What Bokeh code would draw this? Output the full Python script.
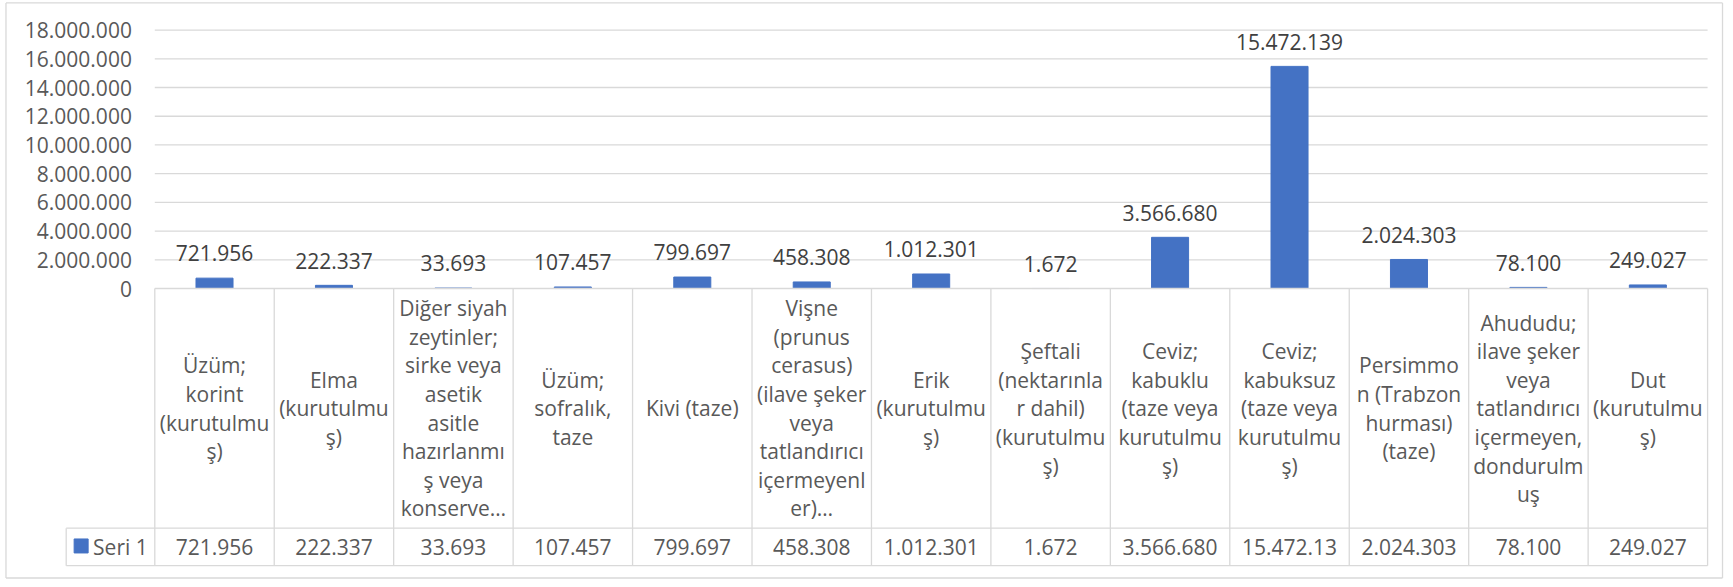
from bokeh.plotting import figure
from bokeh.models import Range1d
from bokeh.core.properties import value
from bokeh.embed import file_html
from bokeh.resources import INLINE

# ---------------- data ----------------
categories = [
    "Üzüm;\nkorint\n(kurutulmu\nş)",
    "Elma\n(kurutulmu\nş)",
    "Diğer siyah\nzeytinler;\nsirke veya\nasetik\nasitle\nhazırlanmı\nş veya\nkonserve…",
    "Üzüm;\nsofralık,\ntaze",
    "Kivi (taze)",
    "Vişne\n(prunus\ncerasus)\n(ilave şeker\nveya\ntatlandırıcı\niçermeyenl\ner)…",
    "Erik\n(kurutulmu\nş)",
    "Şeftali\n(nektarınla\nr dahil)\n(kurutulmu\nş)",
    "Ceviz;\nkabuklu\n(taze veya\nkurutulmu\nş)",
    "Ceviz;\nkabuksuz\n(taze veya\nkurutulmu\nş)",
    "Persimmo\nn (Trabzon\nhurması)\n(taze)",
    "Ahududu;\nilave şeker\nveya\ntatlandırıcı\niçermeyen,\ndondurulm\nuş",
    "Dut\n(kurutulmu\nş)",
]
seri1 = [721956, 222337, 33693, 107457, 799697, 458308, 1012301, 1672,
         3566680, 15472139, 2024303, 78100, 249027]
series_name = "Seri 1"
y_ticks = [0, 2000000, 4000000, 6000000, 8000000, 10000000, 12000000,
           14000000, 16000000, 18000000]


def fmt(v):
    return f"{v:,}".replace(",", ".")


# ---------------- layout (reference pixels) ----------------
W, H = 1725, 579          # figure size (fits the window with its margin)
REF_W, REF_H = 1733, 587  # the figure spans the whole reference picture
PLOT_L = 155              # left of category area
CAT_W = 120               # width per category
ZERO_Y = 292              # y of value 0
TOP_Y = 30                # y of 18.000.000
S = (ZERO_Y - TOP_Y) / 18000000.0   # px per unit
n = len(categories)


def ux(px):   # reference x -> data x
    return (px - PLOT_L) / CAT_W


def vy(py):   # reference y -> data y
    return (ZERO_Y - py) / S


FONT = value("Open Sans")
FS = "21px"
TXT = "#595959"
LBL = "#404040"
GRID = "#D9D9D9"
BAR = "#4472C4"

p = figure(width=W, height=H, output_backend="svg", toolbar_location=None,
           x_axis_location=None, y_axis_location=None, min_border=0,
           x_range=Range1d(ux(0), ux(REF_W)),
           y_range=Range1d(vy(REF_H), vy(0)))
p.grid.visible = False
p.outline_line_color = None
p.background_fill_color = "white"
p.border_fill_color = "white"

# outer chart border
bx0, bx1 = ux(5.5), ux(1730)
by0, by1 = vy(2.5), vy(585.5)
p.segment(x0=[bx0, bx0, bx0, bx1], y0=[by0, by1, by0, by0],
          x1=[bx1, bx1, bx0, bx1], y1=[by0, by1, by1, by1],
          line_color=GRID, line_width=1.3)

# gridlines (non-zero ticks)
gt = [t for t in y_ticks if t > 0]
p.segment(x0=[0] * len(gt), x1=[n] * len(gt), y0=gt, y1=gt,
          line_color=GRID, line_width=1.3)

# y tick labels
p.text(x=[ux(132)] * len(y_ticks), y=y_ticks, text=[fmt(t) for t in y_ticks],
       text_align="right", text_baseline="middle", text_font=FONT,
       text_font_size=FS, text_color=TXT)

# bars
xs = [i + 0.5 for i in range(n)]
p.vbar(x=xs, top=seri1, bottom=0, width=0.31, fill_color=BAR, line_color=BAR)

# data labels above bars
p.text(x=xs, y=[v + 25 / S for v in seri1], text=[fmt(v) for v in seri1],
       text_align="center", text_baseline="middle", text_font=FONT,
       text_font_size=FS, text_color=LBL)

# data table lines
TBL_TOP, ROW_Y, TBL_BOT, LEG_L = 292, 535, 573, 66
p.segment(x0=list(range(n + 1)), x1=list(range(n + 1)),
          y0=[0] * (n + 1), y1=[vy(TBL_BOT)] * (n + 1),
          line_color=GRID, line_width=1.3)
p.segment(x0=[0, ux(LEG_L), ux(LEG_L), ux(LEG_L)],
          x1=[n, n, n, ux(LEG_L)],
          y0=[0, vy(ROW_Y), vy(TBL_BOT), vy(ROW_Y)],
          y1=[0, vy(ROW_Y), vy(TBL_BOT), vy(TBL_BOT)],
          line_color=GRID, line_width=1.3)

# category text (multi-line, centred in cell)
LINE_H = 29
cell_mid = (TBL_TOP + ROW_Y) / 2
cx, cy, ct = [], [], []
for i, c in enumerate(categories):
    lines = c.split("\n")
    k = len(lines)
    for j, ln in enumerate(lines):
        cx.append(i + 0.5)
        cy.append(vy(cell_mid + (j - (k - 1) / 2) * LINE_H))
        ct.append(ln)
p.text(x=cx, y=cy, text=ct, text_align="center", text_baseline="middle",
       text_font=FONT, text_font_size=FS, text_color=TXT)

# value row (cells clip long numbers as in the table)
row_mid = (ROW_Y + TBL_BOT) / 2 + 0.5
cell_txt = [fmt(v)[:9] for v in seri1]
p.text(x=xs, y=[vy(row_mid)] * n, text=cell_txt, text_align="center",
       text_baseline="middle", text_font=FONT, text_font_size=FS, text_color=TXT)

# legend key + series name
p.scatter(x=[ux(81)], y=[vy(553)], marker="square", size=14,
          fill_color=BAR, line_color=BAR)
p.text(x=[ux(93)], y=[vy(row_mid)], text=[series_name], text_align="left",
       text_baseline="middle", text_font=FONT, text_font_size=FS, text_color=TXT)

open("out.html", "w").write(file_html(p, INLINE))
